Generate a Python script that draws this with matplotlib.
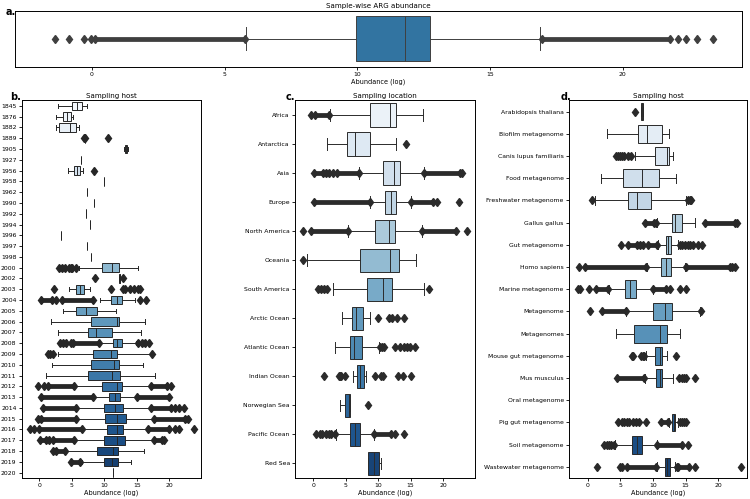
import colorsys
import matplotlib
matplotlib.use("Agg")
import matplotlib.pyplot as plt
import numpy as np
import seaborn as sns

# ---- panel a: all samples ----
a_q1 = [9.96]
a_med = [11.8]
a_q3 = [12.73]
a_wlo = [5.81]
a_whi = [16.88]
a_fliers = [[-1.4, -0.85, -0.3, -0.05, 22.1, 22.4, 22.8, 23.4]]
a_bands = [[(0.1, 5.75), (16.95, 21.8)]]

# ---- panel b: sampling year ----
b_cats = ['1845', '1876', '1882', '1889', '1905', '1927', '1956', '1958', '1962',
          '1990', '1992', '1994', '1996', '1997', '1998', '2000', '2002', '2003',
          '2004', '2005', '2006', '2007', '2008', '2009', '2010', '2011', '2012',
          '2013', '2014', '2015', '2016', '2017', '2018', '2019', '2020']
b_wlo = [2.8, 2.5, 2.5, 7.0, 13.0, 6.4, 4.4, 10.0, 7.3, 8.4, 7.2, 7.8, 3.4, 7.4, 7.9,
         6.1, 12.3, 4.6, 9.3, 3.6, 1.8, 2.8, 9.4, 2.8, 1.9, 1.0, 5.4, 8.3, 5.7, 5.7,
         6.6, 5.5, 4.1, 6.6, 11.25]
b_q1 = [5.1, 3.6, 3.1, 7.0, 13.1, 6.4, 5.3, 10.0, 7.3, 8.4, 7.2, 7.8, 3.4, 7.4, 7.9,
        9.7, 12.3, 5.7, 11.0, 5.6, 8.0, 7.5, 11.3, 8.3, 8.0, 7.5, 9.6, 10.7, 9.9, 10.1,
        10.4, 9.9, 8.9, 9.9, 11.25]
b_med = [5.85, 4.3, 4.7, 7.0, 13.3, 6.4, 5.8, 10.0, 7.3, 8.4, 7.2, 7.8, 3.4, 7.4, 7.9,
         11.2, 12.35, 6.2, 12.0, 7.2, 12.0, 8.7, 12.0, 11.0, 11.5, 11.2, 11.9, 11.6,
         11.6, 12.0, 12.0, 12.0, 11.3, 11.2, 11.25]
b_q3 = [6.6, 4.9, 5.7, 7.0, 13.5, 6.4, 6.3, 10.0, 7.3, 8.4, 7.2, 7.8, 3.4, 7.4, 7.9,
        12.2, 12.45, 6.9, 12.75, 8.8, 12.2, 11.2, 12.75, 11.9, 12.2, 12.45, 12.65,
        12.45, 12.85, 13.25, 12.85, 13.15, 12.1, 12.1, 11.25]
b_whi = [7.3, 5.2, 6.1, 7.0, 13.6, 6.4, 6.7, 10.0, 7.3, 8.4, 7.2, 7.8, 3.4, 7.4, 7.9,
         15.1, 12.45, 7.75, 14.7, 11.8, 16.2, 15.7, 14.8, 17.3, 15.9, 17.75, 17.1, 14.9,
         17.1, 17.6, 16.6, 17.6, 16.1, 14.1, 11.25]
b_fliers = [[], [], [], [6.9, 7.1, 10.5], [], [], [8.4], [], [], [], [], [], [], [], [],
            [3.0, 3.5, 3.95, 4.5, 4.8, 5.1, 5.7], [8.5, 12.9],
            [2.2, 11.0, 12.8, 13.2, 14.0, 14.6, 15.1, 15.4],
            [2.55, 15.4, 16.4], [], [], [],
            [3.2, 3.6, 4.1, 4.8, 15.2, 15.8, 16.3, 16.9],
            [1.4, 1.6, 2.1, 17.35], [], [],
            [-0.15, 0.75, 20.2], [], [20.8, 21.4, 22.3], [-0.25, 22.9],
            [-1.45, -0.8, 23.7], [1.5, 19.2], [2.1], [], []]
b_bands = [[]] * 18 + [
    [(0.25, 2.0), (3.5, 8.3)], [], [], [], [(5.2, 9.2)], [], [], [],
    [(1.3, 5.4), (17.1, 19.6)], [(0.25, 8.2), (14.95, 19.9)],
    [(0.6, 5.6), (17.2, 20.2)], [(0.25, 5.6), (17.7, 22.4)],
    [(-0.1, 6.5), (16.7, 19.9), (20.8, 21.5)],
    [(0.1, 1.1), (2.1, 5.4), (17.7, 18.8)], [(2.6, 3.9)], [(4.9, 6.2)], []]

# ---- panel c: sampling location ----
c_cats = ['Africa', 'Antarctica', 'Asia', 'Europe', 'North America', 'Oceania',
          'South America', 'Arctic Ocean', 'Atlantic Ocean', 'Indian Ocean',
          'Norwegian Sea', 'Pacific Ocean', 'Red Sea']
c_wlo = [2.6, 2.1, 7.1, 8.8, 5.4, -0.9, 3.0, 4.4, 3.3, 6.1, 4.1, 3.5, 8.4]
c_q1 = [8.7, 5.2, 10.8, 11.0, 9.5, 7.2, 8.3, 5.95, 5.6, 6.8, 4.9, 5.6, 8.5]
c_med = [11.85, 6.5, 12.45, 11.95, 11.6, 11.75, 10.8, 6.55, 6.3, 7.25, 5.5, 6.5, 9.4]
c_q3 = [12.8, 8.8, 13.4, 12.7, 12.55, 13.2, 12.1, 7.6, 7.5, 7.8, 5.65, 7.2, 10.2]
c_whi = [16.9, 12.7, 17.0, 15.0, 16.7, 15.8, 17.0, 8.8, 10.1, 8.2, 5.65, 9.3, 10.5]
c_fliers = [[-0.35], [14.35], [2.0, 2.5, 3.0, 22.9], [19.1, 22.45], [-1.5, 23.6],
            [-1.55], [0.8, 1.2, 1.6, 2.1, 17.8], [10.0, 11.7, 12.1, 12.9, 13.9],
            [10.3, 10.6, 10.9, 12.6, 13.3, 14.0, 14.4, 14.9, 15.7],
            [1.65, 3.9, 4.1, 4.35, 4.9, 9.5, 10.4, 10.7, 13.0, 13.8, 15.0],
            [8.4], [0.5, 1.0, 1.4, 1.9, 2.4, 12.6, 14.0], []]
c_bands = [[(0.3, 2.5)], [], [(0.1, 1.5), (3.6, 7.0), (17.1, 22.6)],
           [(0.1, 8.7), (15.1, 18.4)], [(-0.35, 5.3), (16.8, 22.0)], [], [], [], [], [],
           [], [(2.7, 3.4), (9.4, 12.0)], []]

# ---- panel d: sampling host ----
d_cats = ['Arabidopsis thaliana', 'Biofilm metagenome', 'Canis lupus familiaris',
          'Food metagenome', 'Freshwater metagenome', 'Gallus gallus', 'Gut metagenome',
          'Homo sapiens', 'Marine metagenome', 'Metagenome', 'Metagenomes',
          'Mouse gut metagenome', 'Mus musculus', 'Oral metagenome',
          'Pig gut metagenome', 'Soil metagenome', 'Wastewater metagenome']
d_wlo = [8.2, 2.9, 7.25, 2.1, 1.15, 10.6, 10.8, 9.1, 3.25, 5.9, 4.4, 8.9, 8.8, None, 12.5, 4.2, 10.6]
d_q1 = [8.2, 7.65, 10.25, 5.35, 6.2, 12.9, 12.0, 11.25, 5.65, 10.05, 7.1, 10.25, 10.4, None, 12.9, 6.85, 11.8]
d_med = [8.3, 9.15, 12.1, 8.27, 7.6, 13.4, 12.35, 12.05, 6.55, 11.9, 11.15, 11.0, 11.05, None, 13.15, 7.55, 12.15]
d_q3 = [8.4, 11.4, 12.45, 10.9, 9.75, 14.5, 12.8, 12.8, 7.4, 12.95, 12.15, 11.4, 11.45, None, 13.4, 8.35, 12.55]
d_whi = [8.4, 12.45, 13.1, 13.6, 15.05, 16.5, 13.9, 14.95, 9.95, 17.2, 14.2, 12.2, 13.0, None, 13.9, 10.55, 13.4]
d_fliers = [[7.3], [], [4.3, 4.6, 5.0, 5.3, 5.6, 6.1, 6.6], [], [0.6, 15.3, 15.6, 15.9],
            [10.5, 22.9], [5.05, 8.0, 8.5, 14.2, 14.5, 14.9, 15.3, 15.7, 16.1, 16.9, 17.5],
            [-1.4, 22.1, 22.5], [-1.5, -1.1, 0.15, 12.6, 14.2, 15.0], [0.3, 17.4], [],
            [6.8, 7.0, 8.1, 8.4, 8.7, 13.5], [14.0, 14.4, 14.7, 15.0, 16.5], [],
            [4.7, 5.2, 5.6, 6.0, 6.4, 6.9, 7.4, 7.9, 9.0, 14.1, 14.4, 14.7, 15.1],
            [2.5, 2.9, 3.3, 15.3], [1.5, 4.9, 5.2, 13.7, 16.4, 23.5]]
d_bands = [[], [], [], [], [], [(8.8, 10.1), (17.9, 22.5)], [(6.2, 7.6), (9.3, 10.6)],
           [(-0.35, 9.0), (15.0, 21.8)], [(1.3, 3.1), (10.0, 12.0)], [(2.2, 5.8)], [],
           [], [(4.5, 8.7)], [], [(11.2, 12.3)], [(3.6, 4.1), (10.6, 14.5)],
           [(6.0, 10.5), (13.9, 15.5)]]

W, H = 750, 499
TICK_FS = 4.4
LAB_FS = 4.7
TITLE_FS = 5.1
MS = 4.3


def gray_for(colors):
    lum = min(colorsys.rgb_to_hls(*c[:3])[1] for c in colors) * 0.6
    return (lum, lum, lum)


def px_axes(fig, l, t, r, b):
    return fig.add_axes([l / W, 1 - b / H, (r - l) / W, (b - t) / H])


def draw_boxes(ax, q1, med, q3, wlo, whi, fliers, bands, colors):
    gray = gray_for(colors)
    stats, pos, cols = [], [], []
    for i in range(len(med)):
        if med[i] is None:
            continue
        stats.append(dict(med=med[i], q1=q1[i], q3=q3[i], whislo=wlo[i],
                          whishi=whi[i], fliers=fliers[i]))
        pos.append(i)
        cols.append(colors[i])
    lw = 0.7
    bp = ax.bxp(stats, positions=pos, widths=0.8, orientation='horizontal',
                patch_artist=True, manage_ticks=False,
                boxprops=dict(edgecolor=gray, linewidth=lw),
                medianprops=dict(color=gray, linewidth=lw),
                whiskerprops=dict(color=gray, linewidth=lw),
                capprops=dict(color=gray, linewidth=lw),
                flierprops=dict(marker='d', markersize=MS, markerfacecolor=gray,
                                markeredgecolor=gray, linestyle='none'))
    for patch, c in zip(bp['boxes'], cols):
        patch.set_facecolor(c)
    # dense runs of outliers drawn as solid bands
    for i, runs in enumerate(bands):
        for lo, hi in runs:
            ax.hlines(i, lo, hi, colors=[gray], linewidth=MS * 0.8, zorder=2)
            ax.plot([lo, hi], [i, i], 'd', color=gray, markersize=MS, zorder=2)
    for s in ax.spines.values():
        s.set_linewidth(0.7)
    ax.tick_params(labelsize=TICK_FS, length=2.2, width=0.6, pad=1.5)
    ax.set_xticks([0, 5, 10, 15, 20])
    ax.set_xlabel('Abundance (log)', fontsize=LAB_FS, labelpad=1)


def blues(n):
    return [tuple(c) for c in sns.color_palette('Blues', n, desat=0.75)]


fig = plt.figure(figsize=(W / 100, H / 100), dpi=100)

# a
ax_a = px_axes(fig, 15, 10.5, 742, 66.5)
draw_boxes(ax_a, a_q1, a_med, a_q3, a_wlo, a_whi, a_fliers, a_bands, [(0.196, 0.455, 0.631)])
ax_a.set_ylim(0.5, -0.5)
ax_a.set_yticks([])
ax_a.set_xlim(-2.9, 24.5)
ax_a.set_title('Sample-wise ARG abundance', fontsize=TITLE_FS, pad=2)

# b
ax_b = px_axes(fig, 21.7, 100.5, 200.7, 478)
draw_boxes(ax_b, b_q1, b_med, b_q3, b_wlo, b_whi, b_fliers, b_bands, blues(len(b_cats)))
ax_b.set_yticks(range(len(b_cats)))
ax_b.set_yticklabels(b_cats)
ax_b.set_ylim(len(b_cats) - 0.5, -0.5)
ax_b.set_xlim(-2.7, 24.8)
ax_b.set_title('Sampling host', fontsize=TITLE_FS, pad=2)

# c
ax_c = px_axes(fig, 295, 100.5, 475, 478)
draw_boxes(ax_c, c_q1, c_med, c_q3, c_wlo, c_whi, c_fliers, c_bands, blues(len(c_cats)))
ax_c.set_yticks(range(len(c_cats)))
ax_c.set_yticklabels(c_cats)
ax_c.set_ylim(len(c_cats) - 0.5, -0.5)
ax_c.set_xlim(-2.8, 24.9)
ax_c.set_title('Sampling location', fontsize=TITLE_FS, pad=2)

# d
ax_d = px_axes(fig, 569, 100.5, 747, 478)
draw_boxes(ax_d, d_q1, d_med, d_q3, d_wlo, d_whi, d_fliers, d_bands, blues(len(d_cats)))
ax_d.set_yticks(range(len(d_cats)))
ax_d.set_yticklabels(d_cats)
ax_d.set_ylim(len(d_cats) - 0.5, -0.5)
ax_d.set_xlim(-2.86, 24.4)
ax_d.set_title('Sampling host', fontsize=TITLE_FS, pad=2)

# panel letters
for lbl, x, y in [('a.', 6, 12), ('b.', 10, 97), ('c.', 286, 97), ('d.', 561, 97)]:
    fig.text(x / W, 1 - y / H, lbl, fontsize=7, fontweight='bold', ha='left', va='center')

fig.savefig('out.png', dpi=100)
